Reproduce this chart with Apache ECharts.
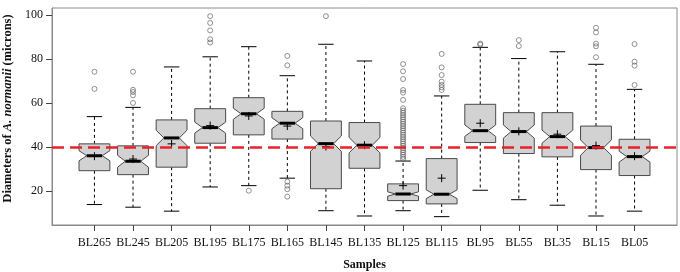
<!DOCTYPE html>
<html>
<head>
<meta charset="utf-8">
<script src="https://cdn.jsdelivr.net/npm/echarts@6/dist/echarts.min.js"></script>
<style>
  html, body { margin: 0; padding: 0; background: #fff; }
  #chart { width: 680px; height: 272px; }
</style>
</head>
<body>
<div id="chart"></div>
<script>
// samples along the core
const categories = ['BL265', 'BL245', 'BL205', 'BL195', 'BL175', 'BL165', 'BL145', 'BL135',
  'BL125', 'BL115', 'BL95', 'BL55', 'BL35', 'BL15', 'BL05']

// box statistics (microns)
const lowWhisker = [13.8, 12.6, 10.8, 21.8, 22.4, 25.8, 11.0, 8.6, 11.0, 8.3, 20.3, 16.0, 13.5, 8.6, 10.8]
const q1 = [29.2, 27.4, 30.8, 41.7, 45.5, 43.6, 21.0, 30.3, 15.6, 14.1, 42.0, 37.0, 35.5, 29.7, 27.0]
const median = [36.0, 33.5, 44.1, 48.8, 55.1, 50.8, 41.5, 40.8, 18.6, 18.5, 47.4, 47.0, 44.7, 39.7, 35.6]
const q3 = [41.4, 40.5, 52.3, 57.4, 62.4, 56.2, 51.8, 51.1, 23.2, 34.7, 59.4, 55.6, 55.6, 49.5, 43.5]
const highWhisker = [53.8, 58.0, 76.4, 81.0, 85.6, 72.4, 86.7, 79.1, 33.6, 63.2, 85.3, 80.2, 83.3, 77.6, 66.2]
const notchHalf = [2.3, 2.7, 3.5, 2.5, 2.5, 2.5, 3.5, 3.5, 1.0, 2.0, 2.6, 3.0, 3.0, 3.5, 2.5]
const mean = [35.8, 34.5, 41.4, 49.7, 54.1, 49.5, 40.2, 40.8, 22.4, 25.8, 50.8, 47.1, 45.8, 40.6, 35.8]

const outliers = [
  [74.2, 66.4],
  [74.2, 66.0, 65.0, 63.5, 60.0],
  [],
  [99.5, 96.4, 93.0, 89.0, 87.5],
  [20.1],
  [81.4, 77.1, 24.2, 22.4, 20.8, 17.4],
  [99.5],
  [],
  [77.7, 74.4, 70.9, 65.9, 64.7, 61.4, 57.6, 56.5, 55.5, 54.5, 53.5, 52.5, 51.5, 50.5, 49.5,
    48.5, 47.5, 46.5, 45.5, 44.5, 43.5, 42.5, 41.5, 40.5, 39.5, 38.5, 37.5, 36.5, 35.5, 34.5],
  [82.3, 76.2, 72.7, 69.7, 68.2, 67.1, 65.9],
  [87.0, 86.5],
  [88.6, 85.9],
  [],
  [94.2, 92.1, 87.0, 85.8, 80.8],
  [86.8, 78.8, 77.0, 68.2]
]

const refLine = 40
const yTicks = [20, 40, 60, 80, 100]

const boxData = categories.map((c, i) => [i, lowWhisker[i], q1[i], median[i], q3[i], highWhisker[i], notchHalf[i], mean[i]])
const outlierData = []
outliers.forEach((list, i) => {
  list.forEach(v => outlierData.push([i, v]))
})

const serif = '"Liberation Serif", "DejaVu Serif", serif'

function renderBox (params, api) {
  const i = api.value(0)
  const lo = api.value(1)
  const a = api.value(2)
  const m = api.value(3)
  const b = api.value(4)
  const hi = api.value(5)
  const n = api.value(6)
  const mu = api.value(7)
  const x = api.coord([i, m])[0]
  const y = v => api.coord([i, v])[1]
  const hw = api.size([0.8, 0])[0] / 2
  const dash = { stroke: '#000', lineWidth: 1, lineDash: [3, 3] }
  const solid = { stroke: '#000', lineWidth: 1 }
  const children = [
    { type: 'line', shape: { x1: x, y1: y(b), x2: x, y2: y(hi) }, style: dash },
    { type: 'line', shape: { x1: x, y1: y(a), x2: x, y2: y(lo) }, style: dash },
    { type: 'line', shape: { x1: x - hw / 2, y1: y(hi), x2: x + hw / 2, y2: y(hi) }, style: solid },
    { type: 'line', shape: { x1: x - hw / 2, y1: y(lo), x2: x + hw / 2, y2: y(lo) }, style: solid },
    {
      type: 'polygon',
      shape: {
        points: [
          [x - hw, y(a)], [x - hw, y(m - n)], [x - hw / 2, y(m)], [x - hw, y(m + n)], [x - hw, y(b)],
          [x + hw, y(b)], [x + hw, y(m + n)], [x + hw / 2, y(m)], [x + hw, y(m - n)], [x + hw, y(a)]
        ]
      },
      style: { fill: '#d2d2d2', stroke: '#4a4a4a', lineWidth: 1 }
    },
    { type: 'line', shape: { x1: x - hw / 2, y1: y(m), x2: x + hw / 2, y2: y(m) }, style: { stroke: '#000', lineWidth: 3 } },
    { type: 'line', shape: { x1: x - 4, y1: y(mu), x2: x + 4, y2: y(mu) }, style: solid },
    { type: 'line', shape: { x1: x, y1: y(mu) - 4, x2: x, y2: y(mu) + 4 }, style: solid }
  ]
  return { type: 'group', children: children }
}

const chart = echarts.init(document.getElementById('chart'))
chart.setOption({
  backgroundColor: '#fff',
  animation: false,
  grid: {
    left: 52,
    right: 3,
    top: 8,
    bottom: 47,
    show: true,
    borderColor: '#8a8a8a',
    borderWidth: 1,
    outerBoundsMode: 'none'
  },
  xAxis: {
    type: 'value',
    min: -1.1,
    max: 15.1,
    name: 'Samples',
    nameLocation: 'middle',
    nameGap: 34,
    nameTextStyle: { fontFamily: serif, fontWeight: 'bold', fontSize: 12, color: '#111' },
    axisLine: { show: true, onZero: false, lineStyle: { color: '#8a8a8a' } },
    axisTick: { show: true, length: 6, customValues: categories.map((c, i) => i), lineStyle: { color: '#444' } },
    axisLabel: {
      customValues: categories.map((c, i) => i),
      formatter: v => categories[Math.round(v)],
      fontFamily: serif,
      fontSize: 12,
      color: '#111',
      margin: 12
    },
    splitLine: { show: false }
  },
  yAxis: {
    type: 'value',
    min: 4.5,
    max: 103.2,
    name: '{b|Diameters of }{i|A. normanii}{b| (microns)}',
    nameLocation: 'middle',
    nameRotate: 90,
    nameGap: 36,
    nameTextStyle: {
      padding: [0, 0, 0, 16],
      rich: {
        b: { fontFamily: serif, fontWeight: 'bold', fontSize: 12.5, color: '#111' },
        i: { fontFamily: serif, fontWeight: 'bold', fontStyle: 'italic', fontSize: 12.5, color: '#111' }
      }
    },
    axisLine: { show: true, onZero: false, lineStyle: { color: '#8a8a8a' } },
    axisTick: { show: true, length: 6, customValues: yTicks, lineStyle: { color: '#444' } },
    axisLabel: {
      customValues: yTicks,
      fontFamily: serif,
      fontSize: 12,
      color: '#111',
      margin: 9
    },
    splitLine: { show: false }
  },
  series: [
    {
      type: 'custom',
      renderItem: renderBox,
      data: boxData,
      encode: { x: 0, y: [1, 5] },
      z: 2
    },
    {
      type: 'scatter',
      data: outlierData,
      symbol: 'circle',
      symbolSize: 5,
      itemStyle: { color: 'rgba(255,255,255,0)', borderColor: '#555', borderWidth: 0.8 },
      z: 3,
      markLine: {
        silent: true,
        symbol: 'none',
        label: { show: false },
        lineStyle: { color: '#e3242b', width: 2.5, type: [12, 6] },
        data: [{ yAxis: refLine }],
        z: 5
      }
    }
  ]
})
</script>
</body>
</html>
